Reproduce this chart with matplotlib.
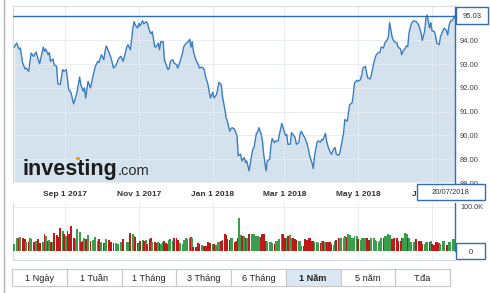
import numpy as np
import pandas as pd
import matplotlib
matplotlib.use("Agg")
import matplotlib.pyplot as plt
from matplotlib.patches import Rectangle
from matplotlib.lines import Line2D

plt.rcParams['font.family'] = ['Liberation Sans', 'DejaVu Sans']

# ---------------- data ----------------
start_date = "2017-07-20"
end_date = "2018-07-20"
day_offsets = [
    1, 3, 5, 6, 8, 10, 11, 13, 14, 15, 17, 19, 21, 22, 25, 26, 27, 29, 30, 31, 33, 34, 36, 37, 39, 41, 42, 44, 45, 46,
    48, 50, 52, 53, 55, 56, 58, 59, 60, 62, 64, 66, 68, 70, 71, 73, 75, 76, 77, 79, 81, 83, 85, 87, 89, 91,
    94, 95, 97, 99, 100, 101, 103, 104, 105, 107, 108, 110, 111, 113, 114, 115, 117, 118, 120, 121, 122, 124, 125, 126,
    128, 129, 130, 132, 133, 135, 136, 138, 140, 141, 143, 144, 146, 147, 148, 149, 151, 153, 154, 156, 158, 159, 161,
    163, 165, 166, 168, 169, 170, 172, 173, 175, 176, 177, 179, 180, 181, 183,
    185, 186, 187, 188, 189, 191, 192, 193, 195, 197, 198, 199, 201, 202, 203, 205, 206, 207, 209, 210, 212, 213, 214,
    216, 217, 219, 220, 222, 223, 225, 226, 227, 229, 230, 231, 233, 234, 236, 237, 238, 240, 241, 243, 244, 245, 247,
    248, 249, 251, 252, 254, 255, 256, 258, 259, 260, 262, 263, 265, 266, 267, 269, 270, 271, 273,
    274, 276, 277, 278, 280, 281, 282, 284, 285, 287, 288, 289, 291, 292, 293, 295, 296, 298, 299, 300, 302, 303, 304,
    306, 307, 309, 310, 311, 313, 314, 315, 317, 318, 320, 321, 322, 324, 325, 326, 327, 329, 331, 333, 335, 337, 338,
    340, 341, 342, 344, 345, 346, 348, 349, 350, 352, 353, 355, 356, 358, 359, 360, 361, 363, 365,
]
prices = [
    93.72, 93.89, 93.64, 93.68, 93.05, 92.80, 92.84, 92.70, 93.12, 93.47, 93.33, 93.51, 93.19, 93.02, 93.72, 93.54,
    93.64, 93.40, 93.49, 93.12, 93.22, 92.98, 92.91, 92.18, 92.14, 92.77, 92.70, 92.77, 92.35, 91.93, 91.79, 91.33,
    91.65, 91.86, 92.46, 92.14, 91.86, 92.00, 91.58, 92.28, 92.00, 92.49, 92.91, 93.12, 93.07, 93.40, 93.19, 93.54,
    93.77, 93.54, 93.26, 92.84, 92.94, 93.22, 93.33, 93.12,
    93.74, 93.82, 93.61, 94.52, 94.79, 94.65, 94.52, 94.72, 94.61, 94.83, 94.70, 94.79, 94.72, 94.37, 94.28, 94.37,
    93.74, 93.72, 93.89, 93.61, 93.95, 93.95, 93.19, 93.05, 92.77, 92.84, 93.12, 93.19, 93.05, 92.98, 92.84, 93.12,
    93.47, 93.74, 93.89, 93.91, 94.05, 93.72, 93.95, 93.54, 93.19, 92.98, 92.84, 92.88, 92.77, 92.49, 92.14, 91.58,
    91.82, 91.58, 91.72, 91.93, 92.24, 92.14, 91.63, 91.09, 90.75, 90.60, 90.18, 90.28, 90.33, 90.26,
    89.98, 89.14, 89.20, 89.21, 88.93, 89.07, 88.86, 88.93, 88.51, 89.14, 89.42, 89.49, 90.09, 90.14, 90.33, 90.05,
    89.77, 89.21, 88.51, 88.93, 89.00, 89.56, 89.87, 89.70, 89.77, 89.77, 90.05, 90.51, 90.33, 90.00, 90.05, 89.63,
    89.63, 90.12, 90.05, 89.91, 89.63, 89.70, 90.05, 90.18, 89.98, 89.91, 89.63, 89.42, 89.14, 88.83, 88.61, 89.14,
    89.70, 89.77, 89.72, 89.84, 89.81, 90.09, 89.77, 89.56, 89.28, 89.21, 89.45, 89.49, 89.21, 89.17, 89.28, 89.56,
    90.12,
    90.67, 90.60, 90.96, 91.30, 91.37, 91.72, 92.21, 92.32, 92.28, 92.35, 92.56, 92.84, 92.91, 92.63, 92.42, 92.38,
    92.56, 93.07, 93.26, 93.40, 93.49, 93.49, 93.72, 93.68, 93.89, 94.02, 94.16, 94.75, 94.16, 94.02, 93.95, 93.89,
    93.72, 93.64, 93.40, 93.54, 93.68, 93.77, 93.74, 94.31, 94.72, 94.83, 94.79, 94.65, 94.31, 94.00, 94.41, 94.93,
    95.07, 94.52, 94.75, 94.41, 94.37, 94.19, 93.89, 93.82, 94.16, 94.41, 94.52, 94.41, 94.23, 94.61, 94.79, 94.86,
    95.03,
]
volumes_k = [
    16, 31, 29, 33, 30, 27, 20, 22, 31, 28, 22, 24, 27, 18, 20, 38, 34, 24, 26, 20, 22, 42, 36, 33, 52, 45, 38, 34,
    46, 40, 57, 31, 28, 50, 44, 20, 23, 31, 28, 36, 24, 26, 33, 24, 27, 20, 18, 17, 27, 25, 22, 18, 19, 17, 22, 27,
    20, 22, 42, 38, 35, 33, 18, 17, 24, 26, 23, 25, 16, 27, 29, 20, 21, 19, 20, 18, 17, 22, 23, 18, 17, 25, 27, 24,
    30, 29, 25, 18, 16, 25, 30, 28, 31, 33, 30, 9, 10, 18, 17, 15, 13, 12, 20, 18, 17, 16, 15, 20, 21, 24, 26, 38,
    36, 27, 25, 31, 29, 20,
    24, 30, 75, 36, 34, 35, 31, 30, 38, 40, 37, 39, 35, 34, 33, 32, 38, 40, 24, 22, 20, 21, 18, 17, 24, 23, 27, 38,
    39, 30, 29, 35, 36, 31, 30, 27, 26, 24, 23, 13, 12, 27, 26, 31, 30, 24, 23, 20, 21, 18, 19, 24, 23, 20, 21, 20,
    21, 16, 15, 24, 25, 31, 30, 30, 29,
    35, 33, 38, 36, 31, 30, 35, 34, 27, 26, 31, 30, 29, 31, 25, 26, 30, 29, 25, 24, 22, 23, 30, 29, 35, 34, 38, 36,
    27, 28, 31, 30, 24, 23, 30, 29, 42, 40, 31, 30, 20, 21, 27, 24, 23, 16, 17, 20, 21, 22, 23, 16, 15, 20, 21, 18,
    17, 24, 23, 15, 14, 20, 21, 27, 28,
]
last_price = 95.03
last_date_label = "20/07/2018"
xtick_dates = ["2017-09-01", "2017-11-01", "2018-01-01", "2018-03-01", "2018-05-01", "2018-07-01"]
xtick_labels = ["Sep 1 2017", "Nov 1 2017", "Jan 1 2018", "Mar 1 2018", "May 1 2018", "Jul 1 2018"]
ytick_values = [88, 89, 90, 91, 92, 93, 94]
vol_tick_value = 100000
vol_tick_label = "100.0K"
button_labels = ["1 Ngày", "1 Tuần", "1 Tháng", "3 Tháng", "6 Tháng", "1 Năm", "5 năm", "T.đa"]
selected_button = "1 Năm"

# ---------------- helpers ----------------
W, H = 490, 293
def fx(x):
    return x / W
def fy(y):
    return 1 - y / H

dates = pd.Timestamp(start_date) + pd.to_timedelta(day_offsets, unit="D")
volumes = np.array(volumes_k) * 1000
price_arr = np.array(prices)
up = np.concatenate([[True], np.diff(price_arr) >= 0])
GREEN = "#3b9e4d"
RED = "#bf1a1a"
bar_colors = [GREEN if u else RED for u in up]

LINE = "#3b7dc2"
FILL = "#d3e2ec"
BLUE = "#2f6db5"
GRID = "#e4eaef"
FRAME = "#d3dbe1"
TXT = "#333333"

fig = plt.figure(figsize=(4.9, 2.93), dpi=100)
fig.patch.set_facecolor("white")

# ---------------- main price chart ----------------
ax = fig.add_axes([fx(13), fy(183), fx(455) - fx(13), (183 - 6) / H])
ymin, ymax = 88.04, 95.45
ax.set_xlim(pd.Timestamp(start_date), pd.Timestamp(end_date))
ax.set_ylim(ymin, ymax)
ax.fill_between(dates, prices, ymin, color=FILL, lw=0, zorder=1)
ax.plot(dates, prices, color=LINE, lw=1.0, zorder=3)
ax.axhline(last_price, color=BLUE, lw=1.0, zorder=4)
ax.set_xticks(pd.to_datetime(xtick_dates))
ax.set_xticklabels(xtick_labels, fontsize=6, fontweight="bold", color=TXT)
ax.set_yticks(ytick_values)
ax.set_yticklabels([f"{v:.2f}" for v in ytick_values], fontsize=5.5, color="#444444")
ax.yaxis.tick_right()
ax.tick_params(axis="x", length=0, pad=5.5)
ax.tick_params(axis="y", length=0, pad=3.6)
ax.grid(True, color=GRID, lw=0.6, zorder=2)
for s in ["left", "top"]:
    ax.spines[s].set_color(FRAME)
    ax.spines[s].set_linewidth(0.8)
ax.spines["bottom"].set_visible(False)
ax.spines["right"].set_color(BLUE)
ax.spines["right"].set_linewidth(1.0)

# ---------------- volume chart ----------------
vax = fig.add_axes([fx(13), fy(260), fx(455) - fx(13), (260 - 203) / H])
vax.set_xlim(pd.Timestamp(start_date), pd.Timestamp(end_date))
vax.set_ylim(-18900, 107800)
vax.bar(dates, volumes, width=1.6, color=bar_colors, lw=0, zorder=3)
vax.set_xticks(pd.to_datetime(xtick_dates))
vax.set_xticklabels([])
vax.set_yticks([vol_tick_value])
vax.set_yticklabels([vol_tick_label], fontsize=5.2, color="#444444")
vax.yaxis.tick_right()
vax.tick_params(axis="both", length=0)
vax.tick_params(axis="y", pad=3.6)
vax.grid(True, color=GRID, lw=0.6, zorder=1)
vax.spines["top"].set_visible(False)
for s in ["left", "bottom"]:
    vax.spines[s].set_color(FRAME)
    vax.spines[s].set_linewidth(0.8)
vax.spines["right"].set_color(BLUE)
vax.spines["right"].set_linewidth(1.0)
vax.spines["right"].set_bounds(0, 107800)

# ---------------- boxes on right ----------------
def fig_box(x0, y0, x1, y1, text, fs, weight="normal", face="white", edge=BLUE, lw=1.0, tcolor=TXT):
    r = Rectangle((fx(x0), fy(y1)), fx(x1) - fx(x0), (y1 - y0) / H, transform=fig.transFigure,
                  facecolor=face, edgecolor=edge, lw=lw, zorder=20)
    fig.add_artist(r)
    fig.text(fx((x0 + x1) / 2), fy((y0 + y1) / 2), text, ha="center", va="center_baseline",
             fontsize=fs, fontweight=weight, color=tcolor, zorder=21)

fig_box(456, 7, 488, 24, f"{last_price:.2f}", 5.5)
fig_box(417, 184, 485, 200, last_date_label, 5.5)
fig_box(456, 243, 485, 259, "0", 5.5)

# ---------------- logo ----------------
t1 = fig.text(fx(22), fy(175), "investing", fontsize=15.5, fontweight="heavy", color="#1c1c1c",
              va="baseline", ha="left", zorder=15)
fig.canvas.draw()
bb = t1.get_window_extent()
fig.text(bb.x1 / fig.bbox.width + 0.002, fy(175), ".com", fontsize=10.5, color="#2a2a2a",
         va="baseline", ha="left", zorder=15)
fig.add_artist(Rectangle((fx(76), fy(160)), fx(80) - fx(76), 3 / H, transform=fig.transFigure,
                         facecolor="#f2a41c", lw=0, zorder=16))

# ---------------- buttons ----------------
bx0, bx1, by0, by1 = 12, 450, 269, 286
bw = (bx1 - bx0) / len(button_labels)
for i, lab in enumerate(button_labels):
    sel = lab == selected_button
    x0 = bx0 + i * bw
    r = Rectangle((fx(x0), fy(by1)), bw / W, (by1 - by0) / H, transform=fig.transFigure,
                  facecolor="#dbe7f3" if sel else "white", edgecolor="#c8c8c8", lw=0.8, zorder=5)
    fig.add_artist(r)
    fig.text(fx(x0 + bw / 2), fy((by0 + by1) / 2), lab, ha="center", va="center_baseline",
             fontsize=6.6, fontweight="bold" if sel else "normal", color="#222222", zorder=6)

# outer frame line on the left
fig.add_artist(Line2D([fx(4), fx(4)], [0, 1], transform=fig.transFigure, color="#b5b5b5", lw=1.0))

fig.savefig("out.png", dpi=100)
